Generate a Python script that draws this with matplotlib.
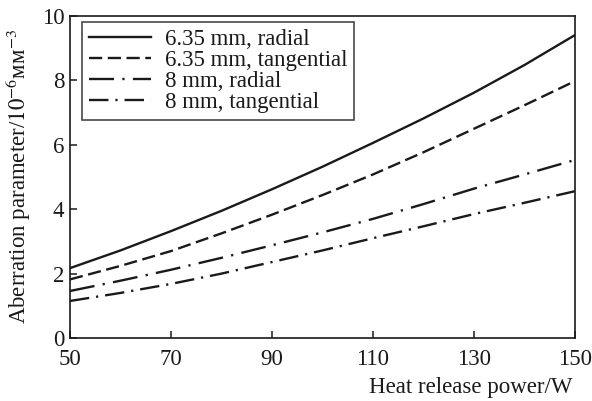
import matplotlib
matplotlib.use("Agg")
import matplotlib.pyplot as plt

power = [50, 60, 70, 80, 90, 100, 110, 120, 130, 140, 150]
r635 = [2.17, 2.72, 3.32, 3.95, 4.62, 5.32, 6.06, 6.82, 7.62, 8.48, 9.41]
t635 = [1.82, 2.24, 2.70, 3.25, 3.83, 4.44, 5.08, 5.77, 6.50, 7.23, 7.98]
r8 = [1.46, 1.78, 2.12, 2.49, 2.88, 3.28, 3.70, 4.16, 4.64, 5.08, 5.53]
t8 = [1.15, 1.40, 1.68, 2.00, 2.36, 2.72, 3.10, 3.47, 3.85, 4.20, 4.56]
labels = ["6.35 mm, radial", "6.35 mm, tangential", "8 mm, radial", "8 mm, tangential"]
xticks = [50, 70, 90, 110, 130, 150]
yticks = [0, 2, 4, 6, 8, 10]

plt.rcParams['font.family'] = ['Liberation Serif', 'DejaVu Serif']
plt.rcParams['mathtext.fontset'] = 'stix'
plt.rcParams['lines.scale_dashes'] = False

fig = plt.figure(figsize=(5.92, 4.01), dpi=100)
ax = fig.add_axes([0.1182, 0.1571, 0.8531, 0.8029])

col = '#1a1a1a'
lw = 1.7
styles = ['-', (0, (9.5, 4)), (0, (18, 6, 1.6, 6)), (0, (14, 5, 1.6, 5))]
for ys, ls, lab in zip([r635, t635, r8, t8], styles, labels):
    ax.plot(power, ys, color=col, lw=lw, linestyle=ls, label=lab, dash_capstyle='butt')

ax.set_xlim(50, 150)
ax.set_ylim(0, 10)
ax.set_xticks(xticks)
ax.set_yticks(yticks)
ax.tick_params(direction='in', length=5, width=1.1, labelsize=16.5, colors=col)
ax.tick_params(axis='x', pad=8)
ax.tick_params(axis='y', pad=4)
for s in ax.spines.values():
    s.set_linewidth(1.2)
    s.set_color(col)

ax.set_ylabel(r"Aberration parameter/$10^{-6}$мм$^{-3}$", fontsize=16.5, color=col, labelpad=6)
ax.set_xlabel("Heat release power/W", fontsize=16.5, color=col)
ax.xaxis.set_label_coords(0.995, -0.155)
ax.xaxis.label.set_ha('right')
ax.xaxis.label.set_va('center')

leg = ax.legend(loc='upper left', bbox_to_anchor=(0.024, 0.981), fontsize=16.5,
                frameon=True, fancybox=False, edgecolor=col, handlelength=2.7,
                handletextpad=0.6, borderpad=0.3, labelspacing=0.0, borderaxespad=0)
leg.get_frame().set_linewidth(1.2)
for t in leg.get_texts():
    t.set_color(col)

fig.savefig("out.png", dpi=100)
